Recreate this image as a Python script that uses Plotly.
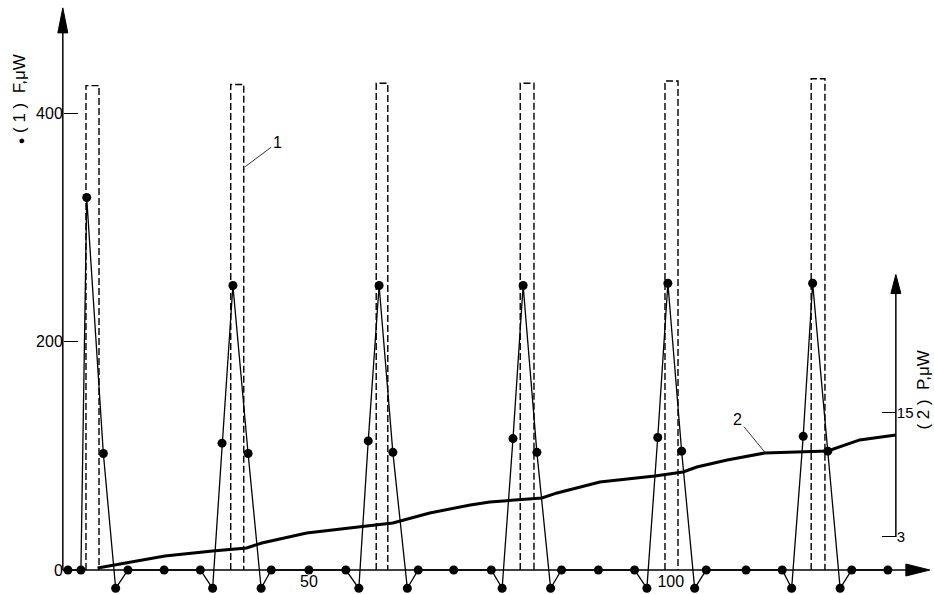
import plotly.graph_objects as go

# ---------------- data ----------------
# curve 1: F (uW), dots joined by thin lines
f_t = [16.7, 18.5, 19.3, 21.6, 23.3, 25.0, 30.0,
       35.0, 36.7, 38.0, 39.5, 41.6, 43.4, 44.8, 50.0,
       55.1, 56.9, 58.2, 59.7, 61.6, 63.6, 65.1, 70.0,
       75.2, 76.7, 78.2, 79.6, 81.5, 83.4, 84.9, 90.0,
       95.0, 96.7, 98.2, 99.6, 101.5, 103.3, 104.9, 110.4,
       115.4, 116.7, 118.3, 119.6, 121.7, 123.4, 125.0, 130.0]
f_val = [0, 0, 326, 102, -16, 0, 0,
         0, -16, 111, 249, 102, -16, 0, 0,
         0, -16, 113, 249, 103, -16, 0, 0,
         0, -16, 115, 249, 103, -16, 0, 0,
         0, -16, 116, 251, 104, -16, 0, 0,
         0, -16, 117, 251, 104, -16, 0, 0]

# curve 1 (dashed): rectangular pulses
pulse_start = [19.2, 39.2, 59.3, 79.2, 99.2, 119.4]
pulse_end = [21.0, 41.0, 60.9, 81.1, 101.0, 121.3]
pulse_height = [424, 425, 426, 426, 428, 430]

# curve 2: P (uW), thick line on the right-hand scale
p_t = [20.8, 25.0, 28.0, 30.1, 36.7, 41.4, 43.5, 49.7, 56.8, 61.6, 66.7, 72.3,
       75.0, 82.2, 84.3, 90.2, 97.8, 101.7, 103.6, 107.8, 113.0, 117.8, 121.7,
       126.1, 131.1]
p_val = [0.0, 0.55, 0.95, 1.16, 1.65, 1.94, 2.42, 3.39, 3.97, 4.35, 5.32, 6.10,
         6.39, 6.77, 7.26, 8.32, 8.90, 9.29, 9.77, 10.45, 11.13, 11.23, 11.32,
         12.39, 12.87]

f_ticks = [0, 200, 400]
t_ticks = [50, 100]
p_ticks = [3, 15]

# ---------------- layout constants ----------------
W, H = 934, 594
X_RANGE = [7.32, 136.37]
Y_RANGE = [-21.0, 498.9]
Y2_RANGE = [-2.52, 54.97]
T_AXIS = 16.0       # position of the F axis on the t scale
P_AXIS_T = 131.1    # position of the P axis on the t scale
FONT = "Liberation Sans"


def frac(v, r):
    return (v - r[0]) / (r[1] - r[0])


# dashed pulse outlines built from the pulse arrays
rx, ry = [], []
for s, e, h in zip(pulse_start, pulse_end, pulse_height):
    rx += [s, s, e, e, None]
    ry += [0, h, h, 0, None]

fig = go.Figure()
fig.add_trace(go.Scatter(x=rx, y=ry, mode="lines",
                         line=dict(color="black", width=1.4, dash="7px,3px"),
                         hoverinfo="skip", showlegend=False))
fig.add_trace(go.Scatter(x=f_t, y=f_val, mode="lines+markers",
                         line=dict(color="black", width=1.3),
                         marker=dict(color="black", size=9),
                         showlegend=False))
fig.add_trace(go.Scatter(x=p_t, y=p_val, mode="lines", yaxis="y2",
                         line=dict(color="black", width=3),
                         showlegend=False))

shapes = [
    # t axis line
    dict(type="line", xref="x", yref="y", x0=T_AXIS, x1=134.0, y0=0, y1=0,
         line=dict(color="black", width=1.5)),
    # F axis line
    dict(type="line", xref="x", yref="y", x0=T_AXIS, x1=T_AXIS, y0=0, y1=475,
         line=dict(color="black", width=1.5)),
    # P axis line
    dict(type="line", xref="x", yref="y2", x0=P_AXIS_T, x1=P_AXIS_T, y0=3, y1=27,
         line=dict(color="black", width=1.5)),
    # arrow heads (pixel sized, anchored at the tips)
    dict(type="path", xref="x", yref="y", xsizemode="pixel", ysizemode="pixel",
         xanchor=135.8, yanchor=0, path="M 0,0 L -24,6 L -24,-6 Z",
         fillcolor="black", line=dict(color="black", width=1)),
    dict(type="path", xref="x", yref="y", xsizemode="pixel", ysizemode="pixel",
         xanchor=T_AXIS, yanchor=492, path="M 0,0 L -5,-25 L 5,-25 Z",
         fillcolor="black", line=dict(color="black", width=1)),
    dict(type="path", xref="x", yref="y2", xsizemode="pixel", ysizemode="pixel",
         xanchor=P_AXIS_T, yanchor=28.4, path="M 0,0 L -5,-19 L 5,-19 Z",
         fillcolor="black", line=dict(color="black", width=1)),
]

annotations = [
    dict(text="<span style='font-size:11px'>\u25cf</span> ( 1 )  F,\u03bcW",
         textangle=-90, xref="paper", yref="y",
         x=frac(9.95, X_RANGE), y=412, xanchor="center", yanchor="middle",
         showarrow=False, font=dict(family=FONT, size=17, color="black")),
    dict(text="( 2 )  P,\u03bcW", textangle=-90, xref="x", yref="y2",
         x=134.9, y=17.2, xanchor="center", yanchor="middle", showarrow=False,
         font=dict(family=FONT, size=17, color="black")),
    dict(text="1", xref="x", yref="y", x=41.2, y=353, ax=32, ay=-24,
         showarrow=True, arrowhead=0, arrowwidth=0.8, arrowcolor="black",
         font=dict(family=FONT, size=16, color="black")),
    dict(text="2", xref="x", yref="y2", x=113.0, y=11.2, ax=-27, ay=-33,
         showarrow=True, arrowhead=0, arrowwidth=0.8, arrowcolor="black",
         font=dict(family=FONT, size=16, color="black")),
]

fig.update_layout(
    width=W, height=H,
    margin=dict(l=0, r=0, t=0, b=0),
    paper_bgcolor="white", plot_bgcolor="white",
    font=dict(family=FONT, size=16, color="black"),
    xaxis=dict(range=X_RANGE, domain=[0, 1], anchor="free",
               position=frac(0, Y_RANGE), showline=False, showgrid=False,
               zeroline=False, ticks="", tickvals=t_ticks,
               tickfont=dict(family=FONT, size=16, color="black")),
    yaxis=dict(range=Y_RANGE, domain=[0, 1], anchor="free",
               position=frac(T_AXIS, X_RANGE), showline=False, showgrid=False,
               zeroline=False, ticks="inside", ticklen=14, tickwidth=1.2,
               tickcolor="black", tickvals=f_ticks,
               tickfont=dict(family=FONT, size=16, color="black")),
    yaxis2=dict(range=Y2_RANGE, overlaying="y", side="right", anchor="free",
                position=frac(P_AXIS_T, X_RANGE), showline=False,
                showgrid=False, zeroline=False, ticks="inside", ticklen=14,
                tickwidth=1.2, tickcolor="black", tickvals=p_ticks,
                tickfont=dict(family=FONT, size=15, color="black")),
    shapes=shapes,
    annotations=annotations,
)

fig.write_html("out.html",
               config={"displayModeBar": False},
               post_script="document.body.style.margin='0';"
                           "document.body.style.overflow='hidden';")
